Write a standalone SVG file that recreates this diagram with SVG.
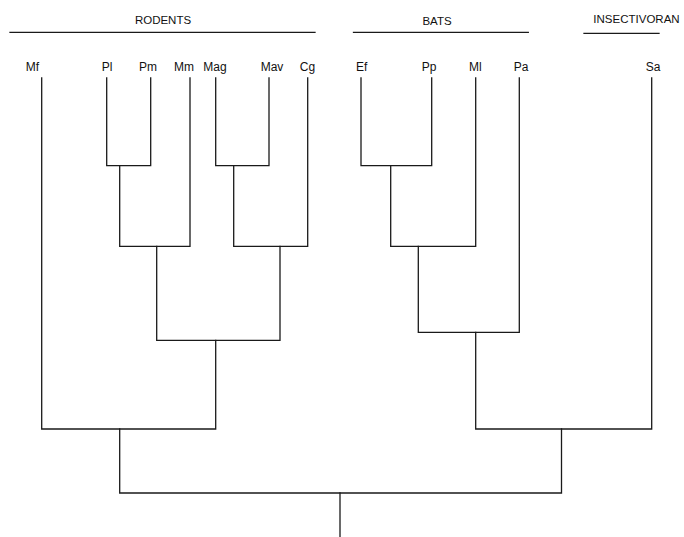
<svg xmlns="http://www.w3.org/2000/svg" width="684" height="537" viewBox="0 0 684 537">
<style>
  .lbl { font-family: "Liberation Sans", Arial, sans-serif; font-size: 12px; fill: #111; text-anchor: middle; }
  .hdr { font-family: "Liberation Sans", Arial, sans-serif; font-size: 11.5px; fill: #111; text-anchor: middle; }
  .ln { fill: none; stroke: #1a1a1a; stroke-width: 1.3; stroke-linecap: square; }
</style>
<rect width="684" height="537" fill="#fff"/>
<g id="headers">
  <g id="rodents"><text class="hdr" x="163" y="24">RODENTS</text><line class="ln" x1="10" y1="32.3" x2="315" y2="32.3"/></g>
  <g id="bats"><text class="hdr" x="437" y="25">BATS</text><line class="ln" x1="353.5" y1="32.3" x2="528.3" y2="32.3"/></g>
  <g id="insectivoran"><text class="hdr" x="636.5" y="23">INSECTIVORAN</text><line class="ln" x1="584" y1="33.3" x2="659" y2="33.3"/></g>
</g>
<g id="leaves">
  <g id="Mf"><text class="lbl" x="32.5" y="71">Mf</text></g>
  <g id="Pl"><text class="lbl" x="107" y="71">Pl</text></g>
  <g id="Pm"><text class="lbl" x="148" y="71">Pm</text></g>
  <g id="Mm"><text class="lbl" x="184" y="71">Mm</text></g>
  <g id="Mag"><text class="lbl" x="215" y="71">Mag</text></g>
  <g id="Mav"><text class="lbl" x="272" y="71">Mav</text></g>
  <g id="Cg"><text class="lbl" x="307.5" y="71">Cg</text></g>
  <g id="Ef"><text class="lbl" x="361.7" y="71">Ef</text></g>
  <g id="Pp"><text class="lbl" x="429" y="71">Pp</text></g>
  <g id="Ml"><text class="lbl" x="475.3" y="71">Ml</text></g>
  <g id="Pa"><text class="lbl" x="521" y="71">Pa</text></g>
  <g id="Sa"><text class="lbl" x="653" y="71">Sa</text></g>
</g>
<g id="connectors">
  <!-- Rodents -->
  <path class="ln" d="M106.7 78 V165.7 H150.7 V78"/>
  <path class="ln" d="M119.7 165.7 V246.3 H190 V78"/>
  <path class="ln" d="M215.7 78 V165.7 H269 V78"/>
  <path class="ln" d="M233.7 165.7 V246.3 H307.7 V78"/>
  <path class="ln" d="M156.7 246.3 V340.3 H280 V246.3"/>
  <path class="ln" d="M41.7 78 V429 H215.7 V340.3"/>
  <!-- Bats + Insectivoran -->
  <path class="ln" d="M361 78 V165.7 H431.7 V78"/>
  <path class="ln" d="M390.7 165.7 V246.3 H475.7 V78"/>
  <path class="ln" d="M418.3 246.3 V332.3 H519.3 V78"/>
  <path class="ln" d="M475.7 332.3 V429 H651.7 V78"/>
  <!-- Root -->
  <path class="ln" d="M119.7 429 V493 H561.5 V429"/>
  <path class="ln" d="M340 493 V537"/>
</g>
</svg>
